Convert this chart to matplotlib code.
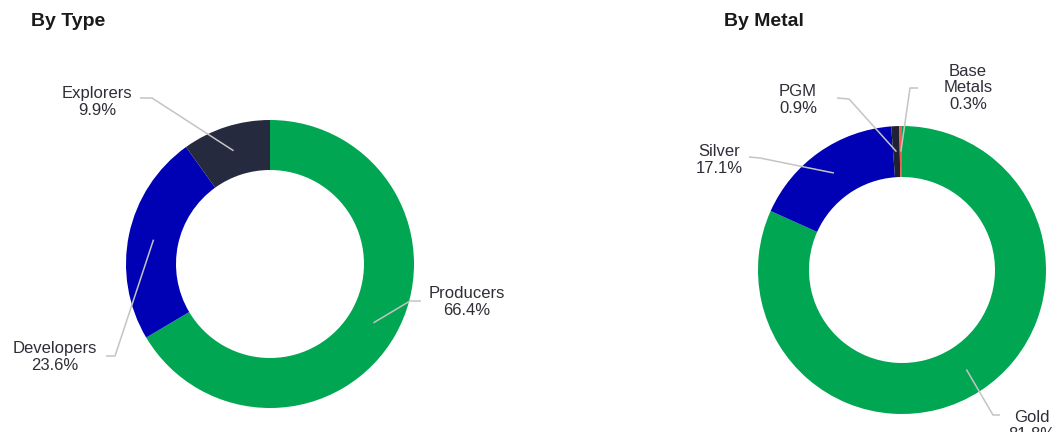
import numpy as np
import matplotlib
matplotlib.use('Agg')
import matplotlib.pyplot as plt

plt.rcParams['font.family'] = ['Liberation Sans', 'DejaVu Sans']

# ---- data ----
type_labels = ["Producers", "Developers", "Explorers"]
type_values = [66.4, 23.6, 9.9]
type_colors = ["#00A651", "#0000B4", "#262A3E"]

metal_labels = ["Gold", "Silver", "PGM", "Base\nMetals"]
metal_values = [81.8, 17.1, 0.9, 0.3]
metal_colors = ["#00A651", "#0000B4", "#1F2233", "#EC5F4E"]

W, H = 1058, 432
TEXT_COLOR = "#2E2E38"
LINE_COLOR = "#C4C4C4"


def py(y):
    # pixel row (top-down) -> data y (bottom-up)
    return H - y


def donut(ax, values, colors, labels, cx, cy, r, width, label_pos, leader):
    ax.pie(values, colors=colors, startangle=90, counterclock=False,
           center=(cx, py(cy)), radius=r,
           wedgeprops=dict(width=width, linewidth=0))
    total = sum(values)
    start = 0.0
    rmid = r - width / 2
    for v, lab, (tx, ty), (ex, ey, kx, ky) in zip(values, labels, label_pos, leader):
        mid = start + v / total * 180.0
        start += v / total * 360.0
        ang = np.deg2rad(90 - mid)
        ax_x = cx + rmid * np.cos(ang)
        ax_y = py(cy) + rmid * np.sin(ang)
        ax.plot([ex, kx, ax_x], [py(ey), py(ky), ax_y], color=LINE_COLOR, lw=1.1,
                solid_capstyle='butt', zorder=3)
        ax.text(tx, py(ty), f"{lab}\n{v:.1f}%", ha='center', va='center',
                fontsize=12, color=TEXT_COLOR, linespacing=1.15)


fig = plt.figure(figsize=(W / 100, H / 100), dpi=100, facecolor='white')
ax = fig.add_axes([0, 0, 1, 1])

# ---- by type ----
donut(ax, type_values, type_colors, type_labels,
      cx=270, cy=264, r=144, width=50,
      label_pos=[(467, 302), (55, 357), (97, 102)],
      leader=[(421, 301, 410, 301), (106, 356, 115, 356), (140, 98, 152, 98)])

# ---- by metal ----
donut(ax, metal_values, metal_colors, metal_labels,
      cx=902, cy=270, r=144, width=51,
      label_pos=[(1032, 426), (719, 160), (798, 100), (968, 88)],
      leader=[(1000, 415, 993, 415), (749, 157, 760, 158),
              (837, 98, 849, 99), (918, 88, 910, 88)])

# pie() resets the limits, so set them afterwards
ax.set_xlim(0, W)
ax.set_ylim(0, H)
ax.set_aspect('equal')
ax.set_axis_off()

# ---- titles ----
ax.text(31, py(22), "By Type", fontsize=14, fontweight='bold', color='#1A1A1A',
        ha='left', va='center')
ax.text(724, py(22), "By Metal", fontsize=14, fontweight='bold', color='#1A1A1A',
        ha='left', va='center')

fig.savefig("out.png", dpi=100, facecolor='white')
